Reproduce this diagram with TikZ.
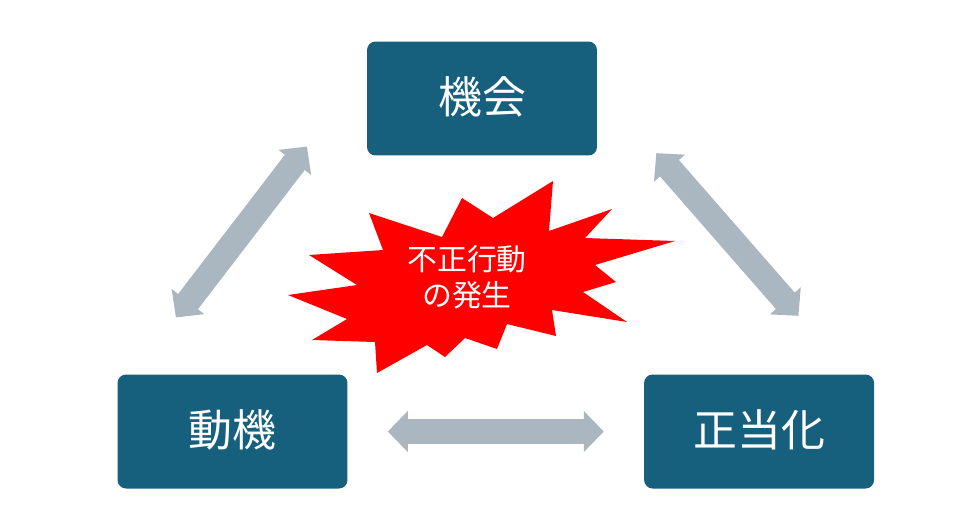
\documentclass[tikz,border=0pt]{standalone}
\usepackage{fontspec}
\setmainfont{Noto Sans CJK JP}
\usetikzlibrary{arrows.meta,positioning}
\definecolor{FraudBlue}{HTML}{165F7D}
\definecolor{FraudGrey}{HTML}{AAB6C0}
\definecolor{FraudRed}{HTML}{FF0000}

\begin{document}
\begin{tikzpicture}[
        x=0.02cm,y=-0.02cm,
        box/.style={rectangle,rounded corners=0.17cm,fill=FraudBlue,text=white,text depth=0.37em,
          minimum width=4.6cm,minimum height=2.28cm,font=\fontsize{25pt}{30pt}\selectfont},
        arrow/.style={line width=0.5cm,draw=FraudGrey,
          {Triangle[width=0.8cm,length=0.4cm]}-{Triangle[width=0.8cm,length=0.4cm]}}
      ]
        \useasboundingbox (0,0) rectangle (960,525);
        \node[box] (kikai) at (482,98.5) {機会};
        \node[box] (doki) at (232.5,431.5) {動機};
        \node[box,right=5.92cm of doki] (seitoka) {正当化};
        % ends of the slanted arrows
        \coordinate (lb) at ([shift={(58.7,-56.7)}]doki.north west);
        \coordinate (lt) at ([shift={(-59.7,-9.3)}]kikai.south west);
        \coordinate (rt) at ([shift={(59,-2.7)}]kikai.south east);
        \coordinate (rb) at ([shift={(-76,-58.3)}]seitoka.north east);
        \draw[arrow] (lb) -- (lt);
        \draw[arrow] (rt) -- (rb);
        \draw[arrow,shorten <=0.8cm,shorten >=0.8cm] (doki) -- (seitoka);
        % burst
        \fill[FraudRed] (553,181) -- (549,231) -- (612,209) -- (585,238) -- (675,241)
          -- (595,265) -- (616,282) -- (583,292) -- (627,322) -- (552,310) -- (556,336)
          -- (507,324) -- (497,349) -- (465,338) -- (445,357) -- (427,345) -- (377,373)
          -- (375,342) -- (312,340) -- (347,319) -- (288,295) -- (357,285) -- (309,255)
          -- (383,250) -- (369,213) -- (442,237) -- (462,198) -- (493,218) -- cycle;
        \node[text=white,align=center,font=\fontsize{17pt}{20.5pt}\selectfont] (hassei)
          at (467,277) {不正行動\\の発生};
      \end{tikzpicture}
\end{document}
